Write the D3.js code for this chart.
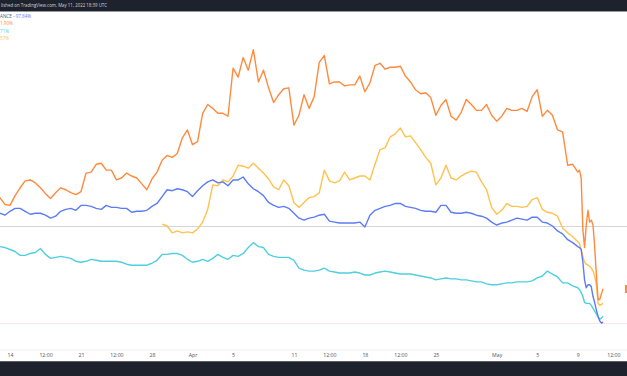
<!DOCTYPE html>
<html>
<head>
<meta charset="utf-8">
<script src="https://cdn.jsdelivr.net/npm/d3@7"></script>
<style>
  body { margin: 0; background: #fff; }
  svg { display: block; font-family: "Open Sans", "DejaVu Sans", sans-serif; }
</style>
</head>
<body>
<svg id="chart" width="627" height="376"></svg>
<script>
// time axis: hours after 13 Mar 2022 00:00 (12h bars, then 4h bars for the crash)
const hours = d3.range(0, 1368, 12).concat(d3.range(1368, 1429, 4));

// percent change series
const blueVals = [13,11,15,18,18,15,12,13,13,11, 8,10,15,17,18,16,21,21,20,18,
  17,21,19,19,18,18,14,15,15,16, 20,23,30,37,36,38,37,35,30,36,
  41,45,47,44,45,41,47,47,50,43, 38,35,31,24,21,19,20,18,13,8,
  6,8,9,11,12,5,4,3,3,3, 3,4,-1,11,16,18,20,21,23,23,
  20,19,18,16,15,15,14,21,21,14, 13,13,14,13,11,10,8,4,1,3,
  4,6,8,7,6,9,9,4,3,0, -5,-8,-14,-17,
  -21,-22,-24,-37,-55,-63,-60,-60,-62,-72,-78,-86,-92,-97,-99,-98];

const orangeVals = [29,22,21,31,39,46,47,44,39,33, 28,34,39,37,34,32,35,54,55,63,
  64,57,57,47,49,54,51,49,43,37, 48,55,67,72,70,74,90,98,83,86,
  115,124,120,115,115,112,161,152,172,159, 180,147,159,141,126,134,140,141,103,113,
  134,120,132,167,174,145,147,147,143,144, 144,153,137,146,164,166,160,162,162,163,
  153,147,139,135,136,131,113,123,129,112, 108,116,129,124,118,118,124,113,107,112,
  120,118,118,120,117,132,139,112,118,113, 98,96,62,63,
  55,57,49,-4,-22,1,16,4,6,1,-22,-50,-75,-75,-69,-64];

const cyanVals = [-21,-22,-24,-26,-30,-30,-28,-27,-23,-29, -33,-32,-31,-32,-33,-36,-37,-36,-34,-35,
  -36,-36,-36,-36,-37,-39,-40,-40,-40,-40, -38,-35,-29,-29,-28,-28,-30,-34,-37,-36,
  -34,-36,-33,-29,-32,-34,-30,-31,-28,-22, -17,-21,-22,-29,-31,-32,-32,-32,-35,-43,
  -45,-46,-46,-45,-43,-46,-47,-48,-48,-48, -47,-48,-50,-50,-48,-47,-46,-47,-48,-49,
  -49,-49,-50,-51,-52,-53,-55,-54,-53,-54, -54,-55,-55,-56,-57,-57,-59,-60,-60,-59,
  -58,-58,-57,-57,-57,-56,-53,-51,-46,-49, -52,-58,-58,-61,
  -63,-65,-68,-72,-78,-79,-79,-79,-81,-84,-87,-90,-93,-95,-94,-92];

const yellowVals = Array(32).fill(null).concat([2,0,-7,-5,-7,-6,-7,-3,
  4,17,42,41,47,45,51,62,61,59, 64,59,54,48,40,37,47,41,24,19,
  24,29,30,34,57,46,44,46,55,47, 49,51,51,47,63,78,80,91,94,100,
  91,92,85,78,70,64,42,49,62,49, 47,51,54,56,55,45,37,19,12,16,
  23,20,20,19,20,27,29,17,14,13, 10,-2,-7,-11,
  -16,-18,-24,-31,-37,-39,-40,-41,-43,-46,-51,-60,-79,-81,-80,-79]);

const tickDates = ["2022-03-14T00:00","2022-03-17T12:00","2022-03-21T00:00","2022-03-24T12:00",
  "2022-03-28T00:00","2022-04-01T00:00","2022-04-05T00:00","2022-04-11T00:00","2022-04-14T12:00",
  "2022-04-18T00:00","2022-04-21T12:00","2022-04-25T00:00","2022-05-01T00:00","2022-05-05T00:00",
  "2022-05-09T00:00","2022-05-12T12:00"];
const tickLabels = ["14","12:00","21","12:00","28","Apr","5","11","12:00","18","12:00","25","May","5","9","12:00"];

const legendRows = [
  { name: "ANCE", value: "\u221297.84%", color: "#5b7cf6" },
  { name: "", value: "1.90%", color: "#ff8a3d" },
  { name: "", value: "71%", color: "#4fcfe0" },
  { name: "", value: "57%", color: "#ffc24d" }
];

const W = 627, H = 376;
const svg = d3.select("#chart");
const t0 = new Date(2022, 2, 13);
const toDate = h => new Date(t0.getTime() + h * 3600e3);

const x = d3.scaleTime()
  .domain([new Date(2022, 2, 14), new Date(2022, 4, 9)])
  .range([10, 577.8]);
const y = d3.scaleLinear().domain([0, -100]).range([226, 324]);

// reference lines
svg.append("line").attr("x1", 0).attr("x2", W).attr("y1", 226.5).attr("y2", 226.5)
  .attr("stroke", "#d4d6dc").attr("stroke-width", 1);
svg.append("line").attr("x1", 0).attr("x2", W).attr("y1", 323.5).attr("y2", 323.5)
  .attr("stroke", "#fce3ea").attr("stroke-width", 1);

const line = d3.line()
  .defined(d => d.v != null)
  .x(d => x(d.t))
  .y(d => y(d.v));

const series = [
  { vals: yellowVals, color: "#ffc24d" },
  { vals: cyanVals, color: "#4fcfe0" },
  { vals: orangeVals, color: "#ff8a3d" },
  { vals: blueVals, color: "#5b7cf6" }
];

series.forEach(s => {
  const pts = hours.map((h, i) => ({ t: toDate(h), v: s.vals[i] }));
  svg.append("path").datum(pts)
    .attr("fill", "none")
    .attr("stroke", s.color)
    .attr("stroke-width", 1.4)
    .attr("stroke-linejoin", "round")
    .attr("d", line);
});

// small orange mark at the right edge
svg.append("rect").attr("x", 625).attr("y", 285).attr("width", 2).attr("height", 8).attr("fill", "#ff8a3d");

// top dark bar
svg.append("rect").attr("x", 0).attr("y", 0).attr("width", W).attr("height", 11).attr("fill", "#1e222d");
svg.append("rect").attr("x", 0).attr("y", 11).attr("width", W).attr("height", 1).attr("fill", "#9598a1");
svg.append("text").attr("x", 1).attr("y", 7.3)
  .attr("font-size", 4.4).attr("fill", "#d1d4dc")
  .text("lished on TradingView.com, May 11, 2022 18:39 UTC");

// legend
legendRows.forEach((r, i) => {
  const t = svg.append("text").attr("x", 0).attr("y", 18.3 + i * 7.1).attr("font-size", 4.6);
  if (r.name) t.append("tspan").attr("fill", "#555a66").text(r.name + " ");
  t.append("tspan").attr("fill", r.color).text(r.value);
});

// x axis
svg.append("rect").attr("x", 0).attr("y", 349.5).attr("width", W).attr("height", 1).attr("fill", "#eef0f3");
const xAxis = d3.axisBottom(x)
  .tickValues(tickDates.map(s => new Date(s)))
  .tickFormat((d, i) => tickLabels[i])
  .tickSize(0).tickPadding(0);
const gx = svg.append("g").attr("transform", "translate(0,353)").call(xAxis);
gx.select(".domain").remove();
gx.selectAll("text").attr("font-size", 5.2).attr("fill", "#50535e")
  .attr("font-family", "\"Open Sans\", sans-serif");

// bottom dark band
svg.append("rect").attr("x", 0).attr("y", 361).attr("width", W).attr("height", 15).attr("fill", "#1e222d");
svg.append("rect").attr("x", 0).attr("y", 361).attr("width", W).attr("height", 1).attr("fill", "#5d606b");
</script>
</body>
</html>
